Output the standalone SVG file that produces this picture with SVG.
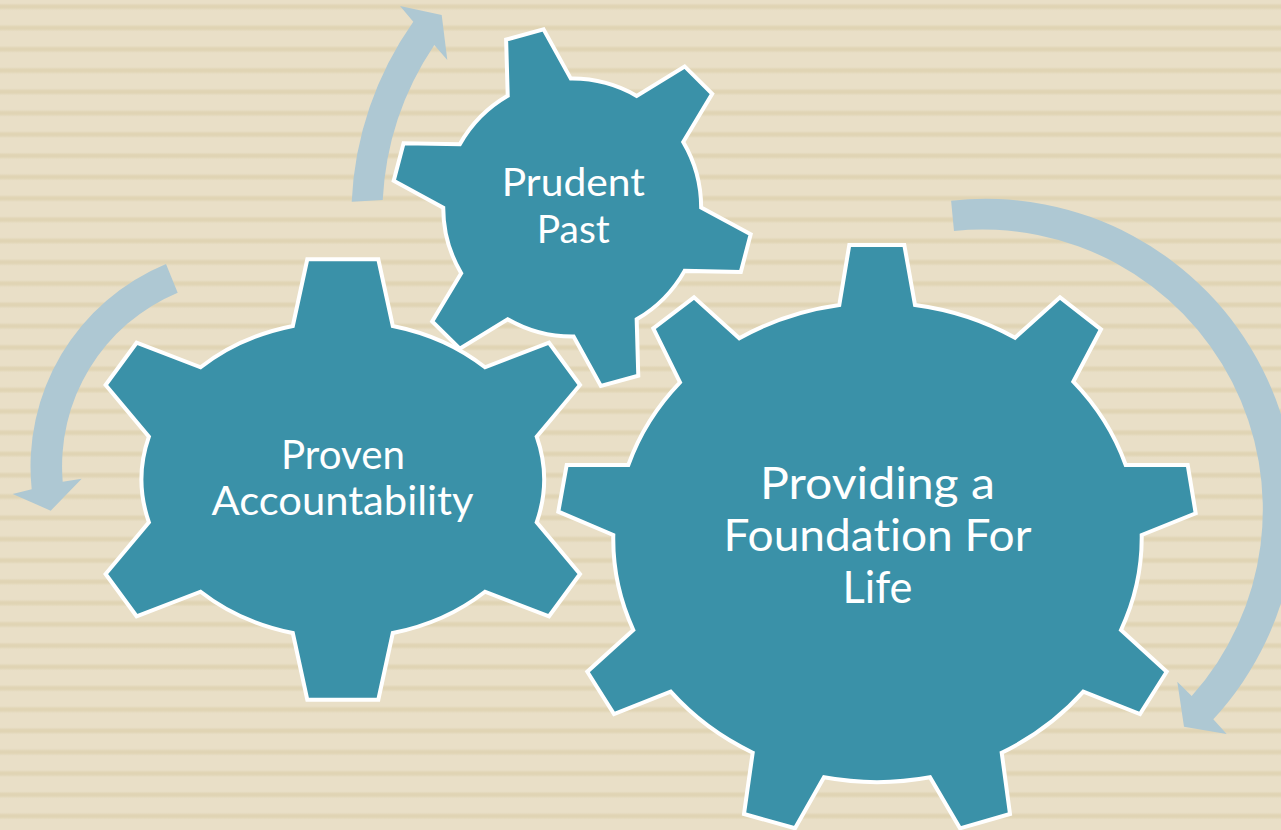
<svg xmlns="http://www.w3.org/2000/svg" width="1281" height="830" viewBox="0 0 1281 830">
  <defs>
    <linearGradient id="stripeGrad" x1="0" y1="0" x2="0" y2="1">
      <stop offset="0" stop-color="#E9DFC7"/>
      <stop offset="0.15" stop-color="#E9DFC7"/>
      <stop offset="0.26" stop-color="#E0D4B4"/>
      <stop offset="0.36" stop-color="#E0D4B4"/>
      <stop offset="0.48" stop-color="#E9DFC7"/>
      <stop offset="1" stop-color="#E9DFC7"/>
    </linearGradient>
    <pattern id="stripes" patternUnits="userSpaceOnUse" x="0" y="0" width="1281" height="21.3">
      <rect x="0" y="0" width="1281" height="21.3" fill="url(#stripeGrad)"/>
    </pattern>
    <style>
      .gear { fill: #3A91A8; stroke: #FFFFFF; stroke-width: 4; stroke-linejoin: miter; }
      .arrow { fill: #AEC8D3; stroke: none; }
      .label { fill: #FFFFFF; font-family: Lato, "Noto Sans", "Liberation Sans", sans-serif; font-weight: 400; text-anchor: middle; font-variant-ligatures: none; font-feature-settings: "liga" 0, "clig" 0; }
    </style>
  </defs>

  <rect x="0" y="0" width="1281" height="830" fill="url(#stripes)"/>

  <g id="connectors">
    <path class="arrow" d="M 351.7,201.7 A 338 338 0 0 1 413.3,21.7 L 400,6 L 441.7,15 L 447.3,60 L 434.3,45 A 307 307 0 0 0 382.7,200 Z"/>
    <path class="arrow" d="M 166,264 A 219 219 0 0 0 31.7,489.3 L 12.7,494 L 50.7,510.7 L 81.7,478.7 L 62.7,481.7 A 188 188 0 0 1 177.7,292.7 Z"/>
    <path class="arrow" d="M 951.1,200.7 A 310 310 0 0 1 1213.3,719.3 L 1226.7,734 L 1184,726.7 L 1177.3,681.7 L 1191.7,696 A 280 280 0 0 0 954,231 Z"/>
  </g>

  <g id="gear-foundation">
    <path class="gear" d="M 839.3,305 L 849.3,245 L 904.3,245 L 915,305 A 265 238 0 0 1 1015,337.7 L 1060,297.3 L 1101,329.3 L 1073.3,381.7 A 265 238 0 0 1 1125.7,465 L 1187.7,465 L 1195.7,513.3 L 1141.7,535 A 265 238 0 0 1 1121,630 L 1166.7,671.7 L 1140,714 L 1083.3,691.7 A 265 238 0 0 1 1001.7,752.7 L 1010,814 L 960,828.3 L 930,777.3 A 265 238 0 0 1 824,777.3 L 795,828.3 L 744,814 L 752.7,752.7 A 265 238 0 0 1 670.7,691.7 L 614,714 L 587.3,671.7 L 633.3,630 A 265 238 0 0 1 613.3,535 L 558.3,511.7 L 566.7,465 L 628.3,465 A 265 238 0 0 1 680,382.3 L 653.3,328.3 L 694,297.3 L 739.3,338.3 A 265 238 0 0 1 839.3,305 Z"/>
    <text class="label" font-size="45" x="877.5" y="498.5" textLength="235" lengthAdjust="spacingAndGlyphs">Providing a</text>
    <text class="label" font-size="45" x="877.5" y="550.5" textLength="308" lengthAdjust="spacingAndGlyphs">Foundation For</text>
    <text class="label" font-size="45" x="877.5" y="602.5" textLength="70" lengthAdjust="spacingAndGlyphs">Life</text>
  </g>

  <g id="gear-accountability">
    <path class="gear" d="M 292.8,326 L 307.3,259.3 L 378.3,259.3 L 392.8,326 A 202 160 0 0 1 485,367.3 L 549,342.7 L 580,385 L 536.7,436.7 A 202 160 0 0 1 536.7,522.3 L 580,574 L 549,616.3 L 485,591.7 A 202 160 0 0 1 392.8,633 L 378.3,699.7 L 307.3,699.7 L 292.8,633 A 202 160 0 0 1 200.6,591.7 L 136.6,616.3 L 105.6,574 L 148.9,522.3 A 202 160 0 0 1 148.9,436.7 L 105.6,385 L 136.6,342.7 L 200.6,367.3 A 202 160 0 0 1 292.8,326 Z"/>
    <text class="label" font-size="41" x="343" y="468.5" textLength="124" lengthAdjust="spacingAndGlyphs">Proven</text>
    <text class="label" font-size="41" x="342.5" y="515" textLength="262" lengthAdjust="spacingAndGlyphs">Accountability</text>
  </g>

  <g id="gear-past">
    <path class="gear" transform="translate(572.2,207.6) rotate(-15.3)" d="M -32.7,-124.8 L -19.4,-179.5 L 19.4,-179.5 L 32.7,-124.8 A 129 129 0 0 1 91.7,-90.7 L 145.7,-106.5 L 165.1,-72.9 L 124.4,-34 A 129 129 0 0 1 124.4,34 L 165.1,72.9 L 145.7,106.5 L 91.7,90.7 A 129 129 0 0 1 32.7,124.8 L 19.4,179.5 L -19.4,179.5 L -32.7,124.8 A 129 129 0 0 1 -91.7,90.7 L -145.7,106.5 L -165.1,72.9 L -124.4,34 A 129 129 0 0 1 -124.4,-34 L -165.1,-72.9 L -145.7,-106.5 L -91.7,-90.7 A 129 129 0 0 1 -32.7,-124.8 Z"/>
    <text class="label" font-size="39" x="573.3" y="196" textLength="143" lengthAdjust="spacingAndGlyphs">Prudent</text>
    <text class="label" font-size="39" x="573.3" y="243" textLength="73" lengthAdjust="spacingAndGlyphs">Past</text>
  </g>
</svg>
